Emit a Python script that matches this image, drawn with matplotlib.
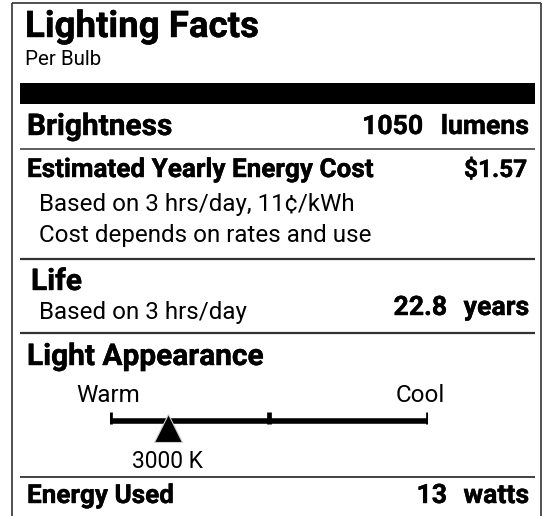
import matplotlib
matplotlib.use("Agg")
import matplotlib.pyplot as plt
from matplotlib.patches import Rectangle
import matplotlib.patheffects as pe

# ---------------- data ----------------
title = "Lighting Facts"
subtitle = "Per Bulb"
brightness_label = "Brightness"
brightness_value = 1050
brightness_unit = "lumens"
cost_label = "Estimated Yearly Energy Cost"
cost_value = 1.57
cost_notes = ["Based on 3 hrs/day, 11¢/kWh", "Cost depends on rates and use"]
life_label = "Life"
life_note = "Based on 3 hrs/day"
life_value = 22.8
life_unit = "years"
appearance_label = "Light Appearance"
scale_ends = ["Warm", "Cool"]
scale_ticks = [2200, 4400, 6600]   # Kelvin positions of the scale ticks
color_temp = 3000
color_temp_unit = "K"
energy_label = "Energy Used"
energy_value = 13
energy_unit = "watts"

# ---------------- figure ----------------
W, H = 547, 516
DPI = 100
plt.rcParams['font.family'] = ['Roboto', 'DejaVu Sans']
fig = plt.figure(figsize=(W / DPI, H / DPI), dpi=DPI)
fig.patch.set_facecolor("white")
ax = fig.add_axes([0, 0, 1, 1])
ax.set_xlim(0, W)
ax.set_ylim(H, 0)
ax.axis("off")

DARK = "#333333"
LX, RX = 20, 535          # rule lines extent
TX = 27                   # left text margin
RT = 529                  # right text edge

FS_HEAD = 21.5   # section headings
FS_SUB = 18.8    # bold sub headings
FS_VAL = 19.2    # values / units
FS_NOTE = 17.4   # notes
HEAVY = [pe.withStroke(linewidth=0.3, foreground="black")]

def bold(x, y, s, size, ha="left", axes=ax):
    return axes.text(x, y, s, fontsize=size, fontweight="bold", va="baseline", ha=ha,
                     path_effects=HEAVY)

# outer border (bottom runs off the image)
ax.plot([12, 12], [3, H + 5], color=DARK, lw=1.2, solid_capstyle="butt")
ax.plot([541, 541], [3, H + 5], color=DARK, lw=1.2, solid_capstyle="butt")
ax.plot([12, 541], [3, 3], color=DARK, lw=1.2, solid_capstyle="butt")

# header
bold(25, 37, title, 26.4)
ax.text(25, 65, subtitle, fontsize=14.8, va="baseline", ha="left")
ax.add_patch(Rectangle((LX, 83), RX - LX, 21, facecolor="black", edgecolor="none"))

def rule(y, lw=1.3):
    ax.plot([LX, RX], [y, y], color=DARK, lw=lw, solid_capstyle="butt")

# Brightness
bold(TX, 135, brightness_label, FS_HEAD)
bold(RT, 134, brightness_unit, FS_VAL, ha="right")
bold(423, 134, f"{brightness_value}", FS_VAL, ha="right")
rule(149, 1.1)

# Cost
bold(TX, 177, cost_label, FS_SUB)
bold(527, 177, f"${cost_value:.2f}", 17.6, ha="right")
for i, note in enumerate(cost_notes):
    ax.text(39, 211 + 31 * i, note, fontsize=FS_NOTE, va="baseline")
rule(259, 1.6)

# Life
bold(31, 290, life_label, FS_HEAD)
ax.text(39, 319, life_note, fontsize=FS_NOTE, va="baseline")
bold(RT, 315, life_unit, FS_VAL, ha="right")
bold(447, 315, f"{life_value}", FS_VAL, ha="right")
rule(333, 1.6)

# Light appearance
bold(TX, 365, appearance_label, FS_HEAD)

# scale axes: x in Kelvin, y in image pixels
sx = fig.add_axes([110 / W, 0, (428 - 110) / W, 1])
sx.set_xlim(scale_ticks[0], scale_ticks[-1])
sx.set_ylim(H, 0)
sx.axis("off")
sx.patch.set_alpha(0)
sx.plot([scale_ticks[0], scale_ticks[-1]], [421, 421], color="black", lw=4, solid_capstyle="butt")
sx.vlines(scale_ticks, 412, 424, color="black", lw=3.4)
sx.plot([color_temp], [427.5], marker="^", markersize=20, color="black",
        markeredgecolor="#cfcfcf", markeredgewidth=0.8)
sx.annotate(scale_ends[0], (scale_ticks[0], 402), xytext=(-2, 0), textcoords="offset pixels",
            ha="center", va="baseline", fontsize=FS_NOTE)
sx.annotate(scale_ends[1], (scale_ticks[-1], 402), xytext=(-8, 0), textcoords="offset pixels",
            ha="center", va="baseline", fontsize=FS_NOTE)
sx.text(color_temp, 468, f"{color_temp} {color_temp_unit}", ha="center", va="baseline", fontsize=16.5)

rule(477, 1.3)

# Energy used
bold(TX, 503, energy_label, FS_SUB)
bold(RT, 503, energy_unit, FS_VAL, ha="right")
bold(447, 503, f"{energy_value}", FS_VAL, ha="right")

fig.savefig("out.png", dpi=DPI)
